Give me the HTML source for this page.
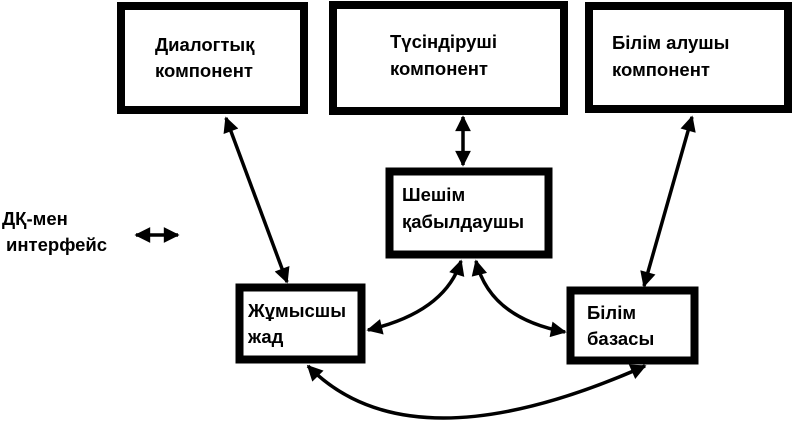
<!DOCTYPE html>
<html><head><meta charset="utf-8"><style>
html,body{margin:0;padding:0;background:#fff;}
svg{display:block;}
text{font-family:"Liberation Sans",sans-serif;font-weight:bold;font-size:18.5px;fill:#000;}
</style></head><body>
<svg width="800" height="424" viewBox="0 0 800 424" xmlns="http://www.w3.org/2000/svg">
<defs>
<marker id="a" viewBox="0 0 10 10" refX="9" refY="5" markerWidth="5.5" markerHeight="4.5" orient="auto-start-reverse" markerUnits="strokeWidth">
<path d="M0,0 L10,5 L0,10 z" fill="#000"/></marker>
</defs>
<g fill="none" stroke="#000" stroke-width="8">
<rect x="121" y="6" width="183" height="104"/>
<rect x="333" y="5" width="231" height="106"/>
<rect x="589" y="6" width="199" height="103"/>
<rect x="389.5" y="171.5" width="159" height="83"/>
<rect x="239.5" y="287.5" width="122" height="72"/>
<rect x="570.5" y="290.5" width="124" height="70"/>
</g>
<g fill="none" stroke="#000" stroke-width="3.5">
<line x1="226" y1="118" x2="287" y2="282" marker-start="url(#a)" marker-end="url(#a)"/>
<line x1="463" y1="117" x2="463" y2="165" marker-start="url(#a)" marker-end="url(#a)"/>
<line x1="692" y1="117" x2="644" y2="286" marker-start="url(#a)" marker-end="url(#a)"/>
<line x1="136" y1="235" x2="178" y2="235" marker-start="url(#a)" marker-end="url(#a)"/>
<path d="M461,261 Q445,312 368,330" marker-start="url(#a)" marker-end="url(#a)"/>
<path d="M476,261 Q490,318 565,332" marker-start="url(#a)" marker-end="url(#a)"/>
<path d="M308,366 Q410,470 645,366" marker-start="url(#a)" marker-end="url(#a)"/>
</g>
<text x="155" y="51">Диалогтық</text><text x="155" y="77">компонент</text>
<text x="390" y="48">Түсіндіруші</text><text x="390" y="75">компонент</text>
<text x="612" y="49">Білім алушы</text><text x="612" y="76">компонент</text>
<text x="402" y="201">Шешім</text><text x="402" y="228">қабылдаушы</text>
<text x="248" y="317">Жұмысшы</text><text x="248" y="343">жад</text>
<text x="587" y="319">Білім</text><text x="587" y="345">базасы</text>
<text x="2" y="225">ДҚ-мен</text><text x="6" y="251">интерфейс</text>
</svg>
</body></html>
